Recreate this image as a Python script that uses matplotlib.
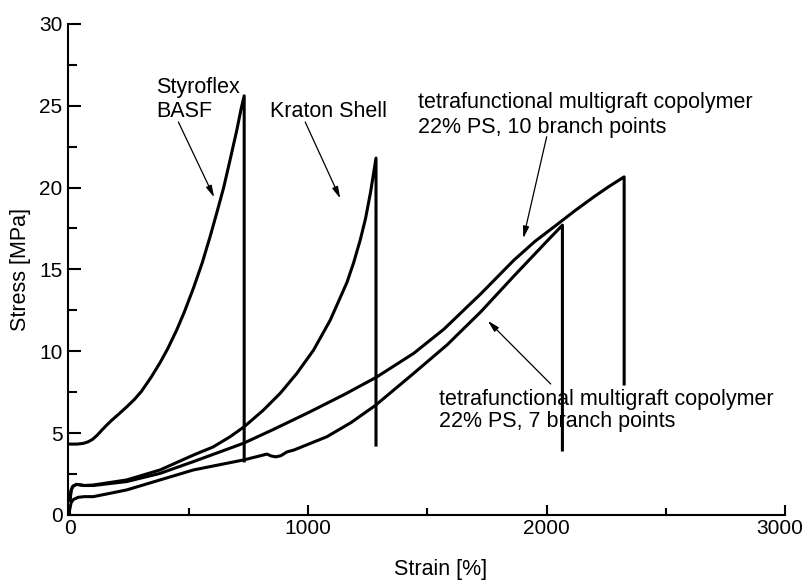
import matplotlib
matplotlib.use("Agg")
import matplotlib.pyplot as plt
from matplotlib.ticker import MultipleLocator

plt.rcParams["font.family"] = ["Liberation Sans", "DejaVu Sans"]

# stress-strain curves (strain %, stress MPa)
styroflex_x = [0, 30, 55, 75, 95, 115, 135, 155, 175, 200, 238, 270, 300, 340,
               378, 410, 448, 480, 518, 555, 588, 615, 645, 672, 700, 718, 731, 731]
styroflex_y = [4.33, 4.33, 4.37, 4.46, 4.62, 4.88, 5.2, 5.5, 5.78, 6.1, 6.6, 7.05,
               7.55, 8.4, 9.3, 10.15, 11.3, 12.4, 13.85, 15.4, 17.0, 18.4, 20.0,
               21.7, 23.5, 24.8, 25.6, 3.3]

kraton_x = [0, 5, 12, 28, 60, 98, 238, 378, 518, 600, 672, 731, 812, 882, 952,
            1022, 1092, 1162, 1190, 1218, 1240, 1261, 1284, 1284]
kraton_y = [0.9, 1.5, 1.75, 1.87, 1.8, 1.83, 2.14, 2.75, 3.66, 4.15, 4.78, 5.39,
            6.41, 7.43, 8.65, 10.07, 11.9, 14.2, 15.4, 16.8, 18.1, 19.7, 21.8, 4.27]

branch10_x = [0, 5, 12, 28, 60, 98, 238, 378, 518, 728, 850, 1000, 1150, 1284,
              1442, 1569, 1723, 1863, 1950, 2040, 2120, 2200, 2260, 2325, 2325]
branch10_y = [0.9, 1.5, 1.75, 1.87, 1.8, 1.8, 2.04, 2.54, 3.26, 4.38, 5.2, 6.25,
              7.35, 8.4, 9.87, 11.35, 13.5, 15.57, 16.7, 17.7, 18.6, 19.45, 20.05,
              20.65, 8.0]

branch7_x = [0, 5, 15, 35, 60, 98, 160, 238, 378, 518, 728, 800, 826, 845, 864,
             885, 910, 940, 1078, 1180, 1282, 1442, 1583, 1723, 1863, 2003, 2066, 2066]
branch7_y = [0.4, 0.75, 0.95, 1.08, 1.12, 1.12, 1.3, 1.53, 2.14, 2.75, 3.36, 3.62,
             3.72, 3.6, 3.55, 3.62, 3.85, 3.97, 4.78, 5.65, 6.7, 8.65, 10.4, 12.4,
             14.6, 16.75, 17.7, 3.97]

x_ticks = [0, 1000, 2000, 3000]
x_labels = ["0", "1000", "2000", ""]

fig = plt.figure(figsize=(8.06, 5.8), dpi=100)
ax = fig.add_axes([0.0844, 0.1121, 0.8896, 0.8469])

for xs, ys in [(styroflex_x, styroflex_y), (kraton_x, kraton_y),
               (branch10_x, branch10_y), (branch7_x, branch7_y)]:
    ax.plot(xs, ys, color="black", lw=2.2, solid_joinstyle="round")

ax.set_xlim(-8, 3000)
ax.set_ylim(0, 30)
ax.set_xticks(x_ticks, x_labels)
ax.xaxis.set_minor_locator(MultipleLocator(500))
ax.yaxis.set_major_locator(MultipleLocator(5))
ax.yaxis.set_minor_locator(MultipleLocator(2.5))

for s in ["top", "right"]:
    ax.spines[s].set_visible(False)
for s in ["left", "bottom"]:
    ax.spines[s].set_linewidth(1.5)

ax.tick_params(axis="y", which="major", direction="in", length=9, width=1.5,
               labelsize=15, pad=4)
ax.tick_params(axis="y", which="minor", direction="in", length=6.5, width=1.5)
ax.tick_params(axis="x", which="major", direction="in", length=7.5, width=1.5,
               labelsize=15, pad=3)
ax.tick_params(axis="x", which="minor", direction="in", length=5, width=1.5)

# last x label sits a bit left of its tick so it stays inside the figure
ax.annotate("3000", xy=(3000, 0), xytext=(-4, -3), textcoords="offset points",
            ha="center", va="top", fontsize=15, annotation_clip=False)

ax.set_xlabel("Strain [%]", fontsize=15.5)
ax.set_ylabel("Stress [MPa]", fontsize=15.5)
ax.xaxis.set_label_coords(0.519, -0.089)
ax.yaxis.set_label_coords(-0.051, 0.5)

arrow = dict(arrowstyle="-|>,head_length=0.7,head_width=0.18", color="black",
             lw=0.9, mutation_scale=10, shrinkA=0, shrinkB=0)

ax.text(361, 24.3, "Styroflex\nBASF", fontsize=15.5, va="baseline", linespacing=1.2)
ax.annotate("", xy=(605, 19.4), xytext=(455, 24.0), arrowprops=arrow)

ax.text(840, 24.32, "Kraton Shell", fontsize=15.5, va="baseline")
ax.annotate("", xy=(1134, 19.33), xytext=(987, 24.0), arrowprops=arrow)

ax.text(1462, 23.32, "tetrafunctional multigraft copolymer\n22% PS, 10 branch points",
        fontsize=15.5, va="baseline", linespacing=1.25)
ax.annotate("", xy=(1902, 16.9), xytext=(2000, 23.1), arrowprops=arrow)

ax.text(1547, 5.38, "tetrafunctional multigraft copolymer\n22% PS, 7 branch points",
        fontsize=15.5, va="baseline", linespacing=1.05)
ax.annotate("", xy=(1753, 11.86), xytext=(2017, 8.0), arrowprops=arrow)

fig.savefig("out.png", dpi=100)
